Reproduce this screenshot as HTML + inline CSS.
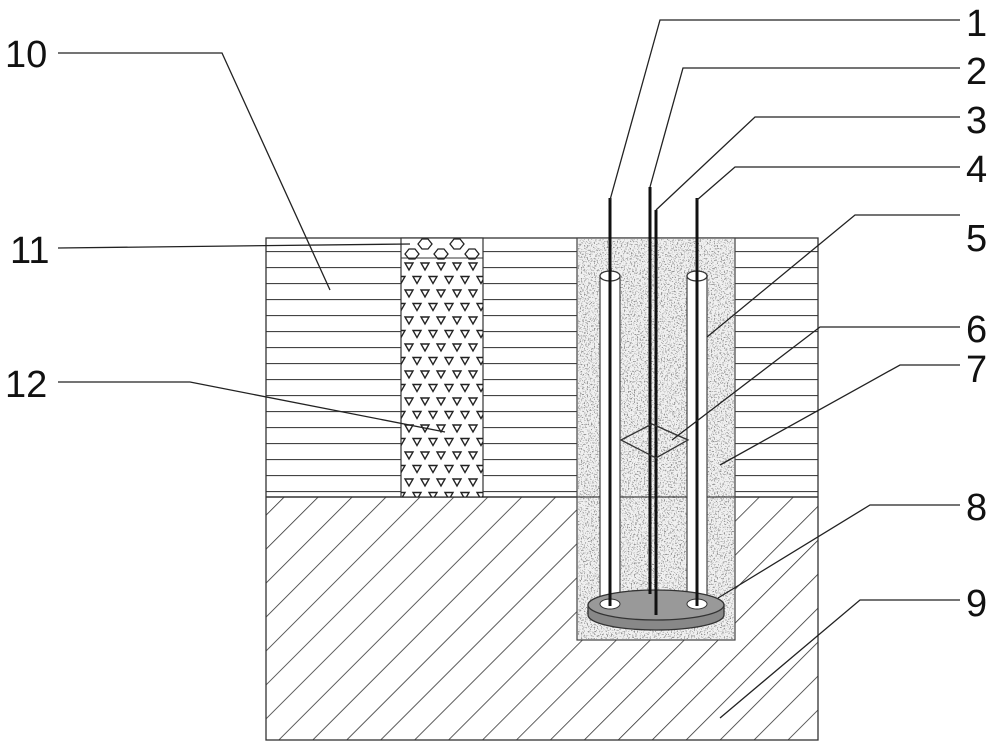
<!DOCTYPE html>
<html><head><meta charset="utf-8"><style>body{margin:0;background:#fff}svg{display:block}text{font-family:"Liberation Sans",sans-serif;font-size:38px;fill:#111}</style></head><body>
<svg width="1000" height="748" viewBox="0 0 1000 748" xmlns="http://www.w3.org/2000/svg">
<defs>
<pattern id="hz" x="0" y="235" width="20" height="16" patternUnits="userSpaceOnUse"><line x1="0" y1="0.5" x2="20" y2="0.5" stroke="#444" stroke-width="1.3"/></pattern>
<pattern id="hatch" width="24" height="24" patternUnits="userSpaceOnUse" patternTransform="rotate(45)"><line x1="0" y1="0" x2="0" y2="24" stroke="#333" stroke-width="1.6"/></pattern>
<pattern id="tri" x="401" y="262" width="16" height="27" patternUnits="userSpaceOnUse"><polygon points="4,1 12,1 8,8" fill="none" stroke="#222" stroke-width="1.4"/><polygon points="-4,14.5 4,14.5 0,21.5" fill="none" stroke="#222" stroke-width="1.4"/><polygon points="12,14.5 20,14.5 16,21.5" fill="none" stroke="#222" stroke-width="1.4"/></pattern>
<filter id="spk" x="0" y="0" width="1" height="1"><feTurbulence type="fractalNoise" baseFrequency="0.7" numOctaves="2" seed="3"/><feColorMatrix type="matrix" values="0 0 0 0 0.3  0 0 0 0 0.3  0 0 0 0 0.3  10 0 0 0 -5.6"/><feComposite in2="SourceGraphic" operator="in"/></filter>
</defs>
<rect x="266" y="238" width="552" height="259" fill="#fff"/>
<rect x="266" y="238" width="552" height="259" fill="url(#hz)"/>
<rect x="266" y="497" width="552" height="243" fill="#fff"/>
<rect x="266" y="497" width="552" height="243" fill="url(#hatch)"/>
<rect x="266" y="238" width="552" height="502" fill="none" stroke="#333" stroke-width="1.3"/>
<line x1="266" y1="497" x2="818" y2="497" stroke="#333" stroke-width="1.5"/>
<rect x="401" y="238" width="82" height="259" fill="#fff" stroke="#333" stroke-width="1.2"/>
<rect x="401" y="262" width="82" height="235" fill="url(#tri)"/>
<line x1="401" y1="258" x2="483" y2="258" stroke="#333"/>
<g fill="none" stroke="#222" stroke-width="1.3">
<polygon points="418,244 422,239 428,239 432,244 428,249 422,249"/><polygon points="434,254 438,249 444,249 448,254 444,259 438,259"/><polygon points="450,244 454,239 460,239 464,244 460,249 454,249"/><polygon points="405,254 409,249 415,249 419,254 415,259 409,259"/><polygon points="465,254 469,249 475,249 479,254 475,259 469,259"/>
</g>
<rect x="577" y="238" width="158" height="402" fill="#f0f0f0" stroke="#444" stroke-width="1.2"/>
<rect x="578" y="239" width="156" height="400" fill="#f0f0f0" filter="url(#spk)"/>
<line x1="577" y1="497" x2="735" y2="497" stroke="#444" stroke-width="1.2"/>
<rect x="600" y="276" width="20" height="330" fill="#fff" stroke="#444" stroke-width="1.2"/>
<rect x="687" y="276" width="20" height="330" fill="#fff" stroke="#444" stroke-width="1.2"/>
<ellipse cx="610" cy="276" rx="10" ry="5" fill="#fff" stroke="#333" stroke-width="1.3"/>
<ellipse cx="697" cy="276" rx="10" ry="5" fill="#fff" stroke="#333" stroke-width="1.3"/>
<path d="M588,605 L588,615 A68,15 0 0 0 724,615 L724,605 Z" fill="#888" stroke="#333" stroke-width="1.3"/>
<ellipse cx="656" cy="605" rx="68" ry="15" fill="#999" stroke="#333" stroke-width="1.3"/>
<ellipse cx="610" cy="604" rx="10" ry="5" fill="#fff" stroke="#333"/>
<ellipse cx="697" cy="604" rx="10" ry="5" fill="#fff" stroke="#333"/>
<g stroke="#111" stroke-width="3">
<line x1="610" y1="198" x2="610" y2="606"/><line x1="697" y1="198" x2="697" y2="606"/>
<line x1="650" y1="187" x2="650" y2="594"/><line x1="656" y1="210" x2="656" y2="615"/>
</g>
<polygon points="621,440 652,424 688,440 656,458" fill="none" stroke="#333" stroke-width="1.3"/>
<g fill="none" stroke="#222" stroke-width="1.3">
<polyline points="960,20 660,20 610,200"/>
<polyline points="960,68 683,68 650,187"/>
<polyline points="960,117 755,117 656,210"/>
<polyline points="960,167 735,167 697,200"/>
<polyline points="960,215 855,215 707,337"/>
<polyline points="960,327 820,327 672,440"/>
<polyline points="960,365 900,365 720,465"/>
<polyline points="960,505 870,505 718,598"/>
<polyline points="960,600 860,600 720,718"/>
<polyline points="58,53 222,53 330,290"/>
<polyline points="58,248 410,244"/>
<polyline points="58,382 190,382 445,432"/>
</g>
<text x="966" y="36">1</text><text x="966" y="84">2</text><text x="966" y="133">3</text><text x="966" y="182">4</text><text x="966" y="251">5</text><text x="966" y="342">6</text><text x="966" y="382">7</text><text x="966" y="520">8</text><text x="966" y="616">9</text>
<text x="5" y="67">10</text><text x="10" y="263">11</text><text x="5" y="397">12</text>
</svg>
</body></html>
